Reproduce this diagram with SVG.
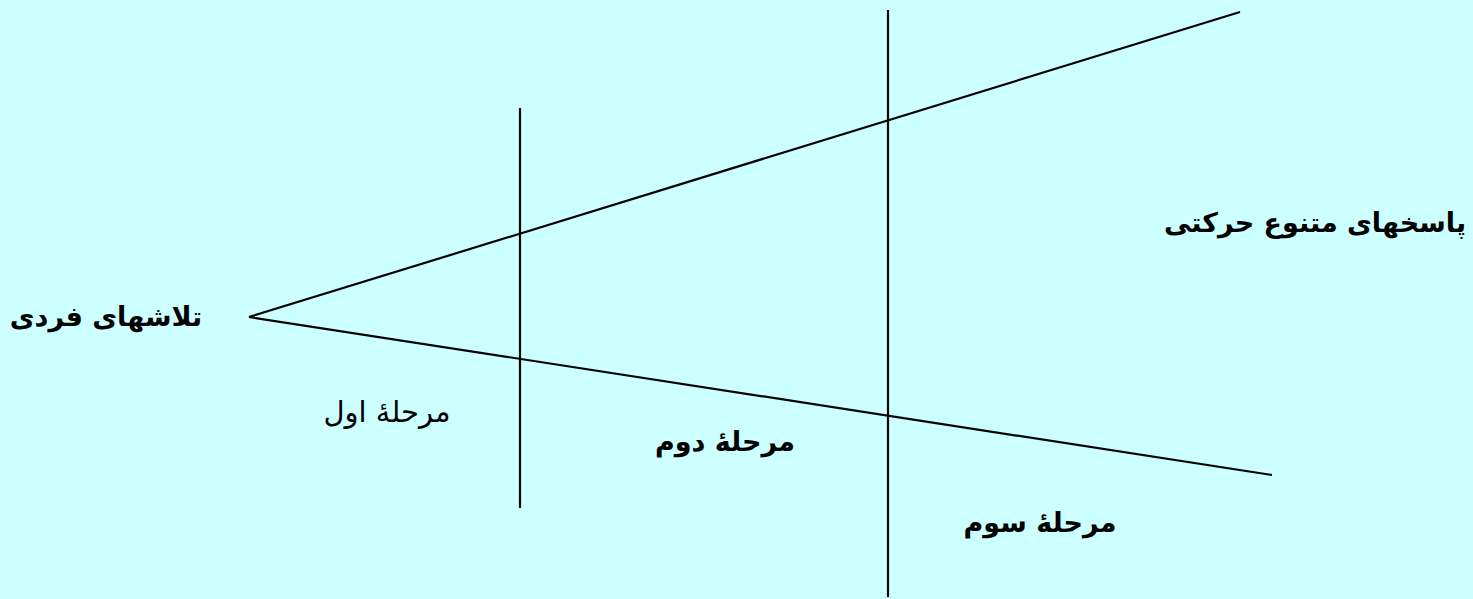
<svg xmlns="http://www.w3.org/2000/svg" width="1473" height="599" viewBox="0 0 1473 599">
<style>
.ln{stroke:#000;stroke-width:2.2;fill:none}
.t{font-family:"DejaVu Sans","Noto Sans",sans-serif;font-size:27px;fill:#000;text-anchor:middle}
.b{font-weight:bold}
.r{font-size:29px}
</style>
<rect width="1473" height="599" fill="#CCFFFF"/>
<g id="connectors">
<line class="ln" x1="249" y1="317" x2="1240" y2="12"/>
<line class="ln" x1="249" y1="317" x2="1272" y2="475"/>
<line class="ln" x1="520" y1="108" x2="520" y2="508"/>
<line class="ln" x1="888" y1="10" x2="888" y2="597"/>
</g>
<g id="n1"><text class="t b" x="106" y="326" direction="rtl">تلاشهای فردی</text></g>
<g id="n2"><text class="t r" x="387" y="422" direction="rtl">مرحلۀ اول</text></g>
<g id="n3"><text class="t b" x="725" y="451" direction="rtl">مرحلۀ دوم</text></g>
<g id="n4"><text class="t b" x="1040" y="532" direction="rtl">مرحلۀ سوم</text></g>
<g id="n5"><text class="t b" x="1315" y="232" direction="rtl">پاسخهای متنوع حرکتی</text></g>
</svg>
